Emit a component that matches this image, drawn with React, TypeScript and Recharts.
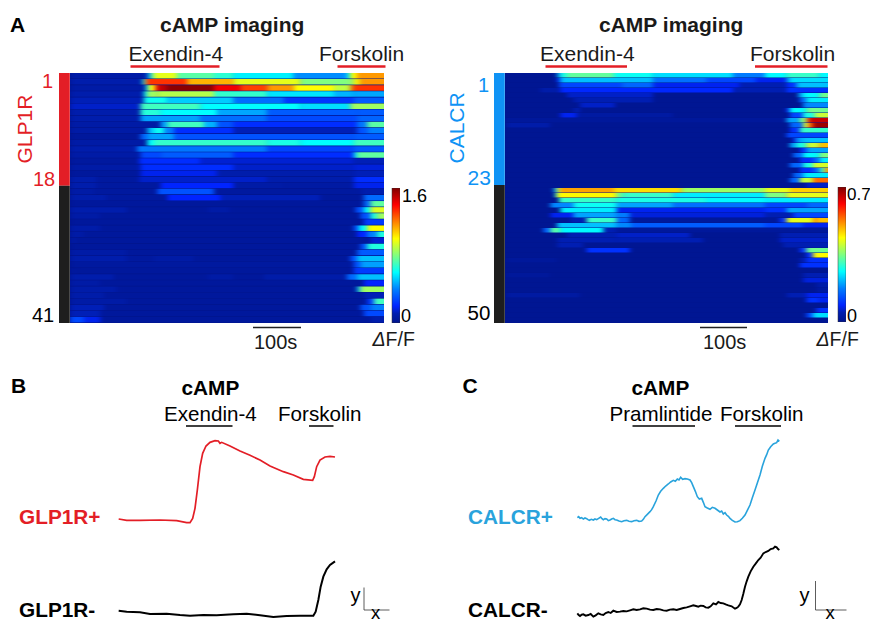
import React from "react";
import { Bar, BarChart, Cell, Line, LineChart, XAxis, YAxis } from "recharts";

const FONT = '"Liberation Sans", Arial, sans-serif';

// each row is a list of [end time in s, dF/F] runs
const glp1rTotal = 654;
const glp1rMax = 1.6;
const glp1rRows: number[][][] = [
  [[161, 0.08], [168, 0.45], [175, 0.75], [223, 0.96], [300, 0.74], [341, 0.67], [466, 0.58], [577, 0.42], [584, 0.6], [598, 1.0], [654, 1.16]],
  [[151, 0.1], [156, 0.6], [161, 1.2], [244, 1.32], [341, 1.12], [480, 0.96], [577, 0.8], [591, 0.82], [605, 1.02], [654, 1.16]],
  [[158, 0.08], [164, 0.6], [178, 1.0], [185, 1.4], [203, 1.5], [300, 1.58], [355, 1.42], [411, 1.3], [466, 1.16], [550, 1.0], [584, 0.9], [591, 1.2], [654, 1.32]],
  [[154, 0.1], [161, 0.6], [182, 0.85], [300, 0.88], [411, 0.68], [550, 0.56], [591, 0.48], [654, 0.46]],
  [[154, 0.12], [203, 0.62], [341, 0.52], [446, 0.36], [591, 0.24], [654, 0.32]],
  [[147, 0.14], [154, 0.7], [272, 0.7], [480, 0.6], [584, 0.55], [654, 0.85]],
  [[147, 0.1], [189, 0.66], [307, 0.6], [411, 0.46], [598, 0.32], [654, 0.32]],
  [[147, 0.1], [272, 0.45], [411, 0.36], [598, 0.28], [654, 0.34]],
  [[189, 0.08], [203, 0.45], [279, 0.7], [307, 0.48], [341, 0.3], [598, 0.22], [619, 0.38], [654, 0.74]],
  [[161, 0.08], [175, 0.5], [196, 0.62], [217, 0.4], [341, 0.22], [598, 0.12], [619, 0.3], [654, 0.4]],
  [[147, 0.05], [161, 0.34], [217, 0.45], [591, 0.3], [654, 0.32]],
  [[161, 0.08], [175, 0.6], [411, 0.68], [480, 0.64], [591, 0.6], [654, 0.7]],
  [[140, 0.1], [411, 0.38], [591, 0.27], [654, 0.32]],
  [[147, 0.08], [189, 0.28], [341, 0.32], [591, 0.22], [598, 0.55], [654, 0.75]],
  [[144, 0.06], [272, 0.22], [591, 0.15], [654, 0.12]],
  [[147, 0.08], [341, 0.22], [591, 0.14], [654, 0.16]],
  [[147, 0.05], [307, 0.18], [591, 0.1], [654, 0.12]],
  [[57, 0.1], [144, 0.06], [411, 0.14], [591, 0.1], [654, 0.22]],
  [[57, 0.1], [189, 0.06], [341, 0.2], [446, 0.08], [591, 0.07], [654, 0.18]],
  [[50, 0.08], [182, 0.06], [300, 0.3], [605, 0.06], [654, 0.1]],
  [[78, 0.1], [203, 0.06], [314, 0.2], [522, 0.12], [612, 0.05], [654, 0.35]],
  [[612, 0.05], [626, 0.35], [654, 0.75]],
  [[119, 0.1], [286, 0.05], [334, 0.08], [595, 0.05], [612, 0.3], [626, 0.6], [654, 0.95]],
  [[64, 0.08], [605, 0.05], [626, 0.3], [640, 0.65], [654, 0.85]],
  [[612, 0.05], [654, 0.25]],
  [[64, 0.09], [591, 0.05], [602, 0.3], [619, 0.6], [654, 1.0]],
  [[29, 0.08], [598, 0.05], [619, 0.2], [640, 0.4], [654, 0.65]],
  [[15, 0.07], [626, 0.05], [654, 0.15]],
  [[605, 0.05], [619, 0.3], [654, 0.65]],
  [[119, 0.08], [598, 0.05], [654, 0.32]],
  [[119, 0.1], [175, 0.06], [258, 0.08], [584, 0.05], [598, 0.3], [654, 0.5]],
  [[591, 0.06], [605, 0.3], [654, 0.45]],
  [[15, 0.06], [591, 0.05], [654, 0.25]],
  [[92, 0.1], [286, 0.05], [341, 0.08], [404, 0.05], [577, 0.09], [598, 0.35], [654, 0.5]],
  [[64, 0.08], [612, 0.05], [654, 0.2]],
  [[99, 0.09], [598, 0.05], [605, 0.5], [654, 0.85]],
  [[71, 0.09], [612, 0.05], [654, 0.12]],
  [[119, 0.08], [619, 0.05], [633, 0.25], [654, 0.7]],
  [[71, 0.12], [605, 0.05], [626, 0.3], [654, 0.4]],
  [[64, 0.12], [612, 0.05], [654, 0.28]],
  [[29, 0.28], [64, 0.18], [626, 0.05], [654, 0.1]],
];

const calcrTotal = 688;
const calcrMax = 0.7;
const calcrRows: number[][][] = [
  [[111, 0.01], [118, 0.2], [132, 0.28], [232, 0.33], [316, 0.27], [486, 0.24], [554, 0.17], [600, 0.26], [670, 0.3], [688, 0.26]],
  [[111, 0.01], [118, 0.1], [316, 0.22], [430, 0.16], [535, 0.12], [600, 0.08], [607, 0.2], [688, 0.24]],
  [[115, 0.01], [248, 0.12], [316, 0.15], [500, 0.08], [600, 0.05], [621, 0.1], [688, 0.22]],
  [[75, 0.01], [118, 0.04], [486, 0.09], [600, 0.05], [688, 0.1]],
  [[132, 0.01], [316, 0.06], [625, 0.01], [635, 0.2], [670, 0.26], [688, 0.34]],
  [[146, 0.01], [316, 0.05], [628, 0.01], [642, 0.15], [688, 0.25]],
  [[160, 0.01], [235, 0.06], [635, 0.01], [688, 0.18]],
  [[146, 0.01], [160, 0.05], [600, 0.01], [607, 0.1], [642, 0.26], [688, 0.34]],
  [[118, 0.01], [153, 0.08], [359, 0.03], [607, 0.01], [635, 0.12], [660, 0.28], [688, 0.4]],
  [[600, 0.02], [628, 0.2], [642, 0.35], [649, 0.55], [688, 0.65]],
  [[4, 0.01], [96, 0.04], [607, 0.01], [635, 0.15], [646, 0.4], [656, 0.55], [688, 0.68]],
  [[607, 0.01], [628, 0.1], [688, 0.3]],
  [[600, 0.01], [688, 0.12]],
  [[614, 0.01], [621, 0.1], [635, 0.2], [688, 0.22]],
  [[607, 0.01], [621, 0.2], [642, 0.28], [670, 0.4], [688, 0.48]],
  [[628, 0.01], [642, 0.1], [688, 0.2]],
  [[614, 0.01], [635, 0.15], [670, 0.26], [688, 0.35]],
  [[628, 0.01], [656, 0.1], [670, 0.15], [688, 0.25]],
  [[607, 0.01], [635, 0.15], [656, 0.28], [688, 0.41]],
  [[628, 0.01], [656, 0.1], [670, 0.15], [681, 0.3], [688, 0.5]],
  [[614, 0.01], [635, 0.15], [688, 0.25]],
  [[607, 0.01], [628, 0.15], [656, 0.4], [688, 0.54]],
  [[642, 0.01], [688, 0.06]],
  [[104, 0.01], [111, 0.2], [118, 0.42], [232, 0.5], [376, 0.46], [554, 0.37], [607, 0.42], [688, 0.47]],
  [[107, 0.01], [111, 0.26], [238, 0.44], [252, 0.33], [359, 0.3], [554, 0.25], [600, 0.35], [688, 0.42]],
  [[115, 0.01], [238, 0.3], [430, 0.28], [554, 0.26], [688, 0.25]],
  [[97, 0.01], [146, 0.18], [238, 0.27], [359, 0.2], [554, 0.16], [642, 0.12], [688, 0.15]],
  [[118, 0.01], [238, 0.25], [554, 0.08], [600, 0.1], [688, 0.2]],
  [[97, 0.01], [146, 0.08], [238, 0.2], [266, 0.17], [554, 0.07], [614, 0.05], [688, 0.12]],
  [[139, 0.01], [174, 0.05], [238, 0.3], [266, 0.15], [585, 0.02], [600, 0.1], [656, 0.42], [663, 0.52], [688, 0.48]],
  [[111, 0.01], [238, 0.22], [270, 0.18], [554, 0.14], [635, 0.12], [688, 0.08]],
  [[82, 0.01], [97, 0.15], [118, 0.32], [210, 0.26], [238, 0.05], [688, 0.02]],
  [[132, 0.01], [238, 0.05], [394, 0.06], [585, 0.01], [688, 0.05]],
  [[111, 0.01], [238, 0.05], [423, 0.05], [585, 0.01], [688, 0.06]],
  [[111, 0.01], [167, 0.05], [592, 0.01], [688, 0.05]],
  [[174, 0.01], [266, 0.1], [628, 0.01], [642, 0.1], [688, 0.34]],
  [[642, 0.01], [656, 0.1], [688, 0.44]],
  [[4, 0.01], [111, 0.02], [628, 0.01], [642, 0.05], [688, 0.1]],
  [[628, 0.01], [688, 0.1]],
  [[688, 0.01]],
  [[4, 0.01], [96, 0.02], [635, 0.01], [688, 0.05]],
  [[635, 0.01], [688, 0.07]],
  [[663, 0.01], [688, 0.04]],
  [[663, 0.01], [688, 0.03]],
  [[4, 0.01], [160, 0.03], [600, 0.01], [642, 0.05], [688, 0.08]],
  [[642, 0.01], [670, 0.1], [688, 0.08]],
  [[688, 0.01]],
  [[663, 0.01], [688, 0.1]],
  [[642, 0.01], [656, 0.12], [688, 0.24]],
  [[688, 0.01]],
];

// traces, panels B and C
const glpTime = [356, 380, 420, 480, 530, 560, 570, 578, 585, 592, 600, 608, 618, 630, 645, 655, 660, 665, 690, 720, 750, 780, 810, 850, 880, 910, 938, 943, 950, 960, 975, 990, 1005];
const glpPlus = [312, 308, 308, 309, 307, 301, 301, 314, 344, 399, 469, 509, 531, 542, 547, 546, 539, 542, 531, 516, 503, 489, 471, 454, 444, 431, 428, 439, 469, 489, 498, 500, 498];
const glpMinusTime = [356, 380, 420, 450, 500, 540, 570, 610, 650, 700, 740, 780, 820, 860, 900, 940, 947, 955, 962, 970, 980, 990, 1005];
const glpMinus = [37, 34, 32, 27, 28, 24, 22, 24, 23, 26, 28, 23, 18, 21, 22, 22, 34, 69, 109, 139, 161, 174, 185];
const calcrPlusTime = [412, 416, 420, 425, 430, 435, 440, 444, 448, 454, 460, 465, 470, 476, 482, 486, 490, 495, 500, 505, 510, 515, 520, 525, 530, 537, 545, 552, 560, 567, 575, 582, 590, 597, 605, 610, 615, 622, 630, 635, 640, 648, 655, 662, 670, 677, 685, 692, 700, 706, 712, 717, 722, 728, 735, 742, 750, 755, 760, 766, 772, 778, 785, 790, 795, 802, 810, 817, 825, 832, 840, 845, 850, 855, 860, 865, 870, 877, 885, 892, 900, 907, 915, 922, 930, 937, 945, 952, 960, 967, 975, 980, 985, 992, 1000, 1005, 1010, 1014, 1018];
const calcrPlus = [316, 319, 314, 316, 312, 315, 313, 310, 308, 311, 309, 312, 310, 314, 318, 313, 310, 313, 312, 307, 309, 312, 314, 310, 309, 306, 304, 307, 308, 305, 304, 307, 308, 305, 306, 311, 319, 326, 334, 340, 349, 366, 384, 395, 404, 411, 417, 423, 428, 425, 432, 429, 437, 431, 433, 432, 429, 421, 409, 395, 379, 372, 374, 362, 349, 345, 341, 347, 344, 339, 333, 336, 327, 331, 324, 320, 314, 308, 303, 304, 307, 314, 324, 338, 354, 376, 399, 420, 444, 470, 494, 505, 519, 529, 537, 539, 541, 549, 545];
const calcrMinusTime = [412, 416, 420, 425, 430, 437, 445, 452, 460, 467, 475, 482, 490, 497, 505, 512, 520, 530, 540, 550, 560, 570, 580, 590, 600, 610, 620, 630, 640, 650, 660, 670, 680, 690, 700, 710, 720, 730, 740, 750, 760, 768, 775, 782, 790, 797, 805, 812, 820, 828, 835, 842, 850, 857, 865, 875, 885, 890, 895, 900, 905, 910, 915, 920, 925, 932, 940, 947, 955, 962, 970, 977, 985, 992, 1000, 1005, 1010, 1014, 1018];
const calcrMinus = [29, 24, 21, 25, 26, 22, 24, 27, 19, 23, 29, 26, 24, 30, 33, 30, 37, 33, 34, 36, 35, 38, 41, 39, 41, 44, 43, 40, 39, 42, 41, 38, 37, 40, 41, 39, 42, 45, 47, 50, 53, 51, 49, 52, 51, 47, 46, 50, 59, 56, 63, 60, 59, 56, 53, 50, 43, 45, 49, 56, 69, 88, 109, 125, 139, 155, 169, 178, 189, 196, 209, 213, 216, 222, 224, 229, 227, 222, 219];

const jetStops = [
  [0, "#00148c"],
  [0.07, "#001eb0"],
  [0.125, "#0024ff"],
  [0.25, "#0080ff"],
  [0.375, "#00ffff"],
  [0.5, "#80ff80"],
  [0.625, "#ffff00"],
  [0.75, "#ff8000"],
  [0.875, "#ff0000"],
  [1, "#800000"],
] as [number, string][];

function jet(f: number) {
  const k = Math.max(0, Math.min(1, f));
  for (let i = 1; i < jetStops.length; i++) {
    const [b, cb] = jetStops[i];
    const [a, ca] = jetStops[i - 1];
    if (k <= b) {
      const t = (k - a) / (b - a);
      const ch = (s: string, p: number) => parseInt(s.slice(p, p + 2), 16);
      const mix = (p: number) => Math.round(ch(ca, p) + (ch(cb, p) - ch(ca, p)) * t);
      return `rgb(${mix(1)},${mix(3)},${mix(5)})`;
    }
  }
  return "#800000";
}

const BLEED = 14; // drawn past the right edge so the blur does not fade there

function Heatmap({ rows, total, max, left, top, width, height }: any) {
  const nSeg = Math.max(...rows.map((r: number[][]) => r.length));
  const extra = (total * BLEED) / width;
  const table = rows.map((r: number[][], i: number) => {
    const o: any = { row: i + 1 };
    let prev = 0;
    r.forEach(([end], j) => {
      o["w" + j] = end - prev + (j === r.length - 1 ? extra : 0);
      prev = end;
    });
    return o;
  });
  const segs = Array.from({ length: nSeg }, (_, j) => j);
  return (
    <div style={{ position: "absolute", left, top, width, height, overflow: "hidden", background: "#00148c" }}>
      <div style={{ filter: "url(#heatBlur)", width: width + BLEED, height }}>
        <BarChart
          width={width + BLEED}
          height={height}
          data={table}
          layout="vertical"
          margin={{ top: 0, right: 0, bottom: 0, left: 0 }}
          barCategoryGap={0}
          barGap={0}
          barSize={height / rows.length}
        >
          <XAxis type="number" domain={[0, total + extra]} hide />
          <YAxis type="category" dataKey="row" hide />
          {segs.map((j) => (
            <Bar key={j} dataKey={"w" + j} stackId="t" isAnimationActive={false}>
              {rows.map((r: number[][], i: number) => (
                <Cell key={i} fill={r[j] ? jet(r[j][1] / max) : "none"} />
              ))}
            </Bar>
          ))}
        </BarChart>
      </div>
    </div>
  );
}

function Strip({ split, colors, left, top, height }: any) {
  const data = [{ name: "cells", a: split[0], b: split[1] }];
  return (
    <div style={{ position: "absolute", left, top }}>
      <BarChart width={12} height={height} data={data} margin={{ top: 0, right: 0, bottom: 0, left: 0 }} barSize={12}>
        <XAxis dataKey="name" hide />
        <YAxis hide reversed domain={[0, split[0] + split[1]]} />
        <Bar dataKey="a" stackId="s" fill={colors[0]} isAnimationActive={false} />
        <Bar dataKey="b" stackId="s" fill={colors[1]} isAnimationActive={false} />
      </BarChart>
    </div>
  );
}

function ColorBar({ id, max, left, top, height }: any) {
  return (
    <div style={{ position: "absolute", left, top }}>
      <BarChart width={9} height={height} data={[{ name: "dF/F", v: max }]} margin={{ top: 0, right: 0, bottom: 0, left: 0 }} barSize={8}>
        <defs>
          <linearGradient id={id} x1="0" y1="1" x2="0" y2="0">
            {jetStops.map(([o, c]) => (
              <stop key={o} offset={o} stopColor={c} />
            ))}
          </linearGradient>
        </defs>
        <XAxis dataKey="name" hide />
        <YAxis hide domain={[0, max]} />
        <Bar dataKey="v" fill={`url(#${id})`} stroke="#333" strokeWidth={0.5} isAnimationActive={false} />
      </BarChart>
    </div>
  );
}

function Traces({ series, left }: any) {
  return (
    <div style={{ position: "absolute", left, top: 370 }}>
      <LineChart width={430} height={253} margin={{ top: 0, right: 0, bottom: 0, left: 0 }}>
        <XAxis type="number" dataKey="t" domain={[0, 1290]} hide />
        <YAxis type="number" domain={[0, 759]} hide />
        {series.map((s: any) => (
          <Line
            key={s.name}
            name={s.name}
            data={s.time.map((t: number, i: number) => ({ t, v: s.values[i] }))}
            dataKey="v"
            type="linear"
            stroke={s.color}
            strokeWidth={s.w}
            dot={false}
            isAnimationActive={false}
          />
        ))}
      </LineChart>
    </div>
  );
}

const RED = "#e31e26";
const BLUE = "#0f93f5";
const INK = "#1a1a1a";

// [text, x, baseline, size, weight, colour]
const labels: [string, number, number, number, string, string][] = [
  ["A", 10, 32, 21, "bold", "#000"],
  ["cAMP imaging", 160, 32, 21, "bold", INK],
  ["Exendin-4", 128.5, 61, 21, "normal", INK],
  ["Forskolin", 319, 61, 21, "normal", INK],
  ["1", 42, 88, 20, "normal", RED],
  ["18", 33, 186, 20, "normal", RED],
  ["41", 32, 322, 20, "normal", "#000"],
  ["1.6", 402, 202, 18, "normal", "#000"],
  ["0", 401, 322, 18, "normal", "#000"],
  ["100s", 254, 349, 20, "normal", INK],
  ["cAMP imaging", 599, 32, 21, "bold", INK],
  ["Exendin-4", 540, 61, 21, "normal", INK],
  ["Forskolin", 750, 61, 21, "normal", INK],
  ["1", 478, 92, 20, "normal", BLUE],
  ["23", 467.5, 185, 21, "normal", BLUE],
  ["50", 467.5, 320, 20.5, "normal", "#000"],
  ["0.7", 847, 200, 17, "normal", "#000"],
  ["0", 847, 322, 18, "normal", "#000"],
  ["100s", 703, 349, 20, "normal", INK],
  ["B", 11, 393, 21, "bold", "#000"],
  ["cAMP", 181.5, 395, 20.8, "bold", "#000"],
  ["Exendin-4", 164, 421, 20.6, "normal", "#000"],
  ["Forskolin", 278, 421, 20.6, "normal", "#000"],
  ["GLP1R+", 19, 524, 20.8, "bold", RED],
  ["GLP1R-", 19, 617, 20.8, "bold", "#000"],
  ["y", 350.5, 602, 20, "normal", "#000"],
  ["x", 371, 619, 18.5, "normal", "#000"],
  ["C", 462.5, 393, 21, "bold", "#000"],
  ["cAMP", 631.5, 395, 20.8, "bold", "#000"],
  ["Pramlintide", 609.5, 421, 20.6, "normal", "#000"],
  ["Forskolin", 720, 421, 20.6, "normal", "#000"],
  ["CALCR+", 468, 524, 20.8, "bold", "#29a3dc"],
  ["CALCR-", 468, 617, 20.8, "bold", "#000"],
  ["y", 799.5, 602, 20, "normal", "#000"],
  ["x", 825.5, 619, 18.5, "normal", "#000"],
];

// stimulus and scale bars: [x1, y1, x2, y2, width, colour]
const rules: [number, number, number, number, number, string][] = [
  [130.5, 66.5, 219.5, 66.5, 2.6, RED],
  [337.5, 66.5, 385.5, 66.5, 2.6, RED],
  [545.5, 66.5, 627, 66.5, 2.6, RED],
  [755, 66.5, 827.5, 66.5, 2.6, RED],
  [253, 327.5, 301, 327.5, 1.5, "#222"],
  [700, 327.5, 747, 327.5, 1.5, "#222"],
  [186, 426, 232.5, 426, 1.5, "#000"],
  [309, 426, 333.5, 426, 1.5, "#000"],
  [632.5, 426, 695, 426, 1.5, "#000"],
  [735, 426, 781, 426, 1.5, "#000"],
  [364, 587.5, 364, 610, 0.8, "#333"],
  [364, 610, 389.5, 610, 0.8, "#333"],
  [815.5, 581, 815.5, 610, 0.8, "#333"],
  [815.5, 610, 846.5, 610, 0.8, "#333"],
];

export default function App() {
  return (
    <div style={{ position: "absolute", left: 0, top: 0, width: 870, height: 623, background: "#fff", overflow: "hidden", fontFamily: FONT }}>
      <svg width={0} height={0} style={{ position: "absolute" }}>
        <filter id="heatBlur" x="-5%" y="-5%" width="110%" height="110%" colorInterpolationFilters="sRGB">
          <feGaussianBlur stdDeviation="2.6 0.6" />
        </filter>
      </svg>

      <Strip split={[18.5, 22.5]} colors={[RED, "#1e1e1e"]} left={58} top={73} height={250} />
      <Heatmap rows={glp1rRows} total={glp1rTotal} max={glp1rMax} left={69.5} top={73} width={314} height={250} />
      <ColorBar id="jetA" max={glp1rMax} left={391} top={188} height={135} />

      <Strip split={[22.4, 27.6]} colors={[BLUE, "#1e1e1e"]} left={493} top={73} height={250} />
      <Heatmap rows={calcrRows} total={calcrTotal} max={calcrMax} left={505} top={73} width={323} height={250} />
      <ColorBar id="jetB" max={calcrMax} left={837} top={187} height={135} />

      <Traces
        left={0}
        series={[
          { name: "GLP1R+", time: glpTime, values: glpPlus, color: RED, w: 1.7 },
          { name: "GLP1R-", time: glpMinusTime, values: glpMinus, color: "#000", w: 2 },
        ]}
      />
      <Traces
        left={440}
        series={[
          { name: "CALCR+", time: calcrPlusTime, values: calcrPlus, color: "#29a3dc", w: 1.6 },
          { name: "CALCR-", time: calcrMinusTime, values: calcrMinus, color: "#000", w: 1.9 },
        ]}
      />

      <svg width={870} height={623} style={{ position: "absolute", left: 0, top: 0, pointerEvents: "none" }}>
        {rules.map(([x1, y1, x2, y2, w, c], i) => (
          <line key={i} x1={x1} y1={y1} x2={x2} y2={y2} stroke={c} strokeWidth={w} />
        ))}
        {labels.map(([t, x, y, size, weight, color], i) => (
          <text key={i} x={x} y={y} fontSize={size} fontWeight={weight} fill={color} fontFamily={FONT}>
            {t}
          </text>
        ))}
        <text transform="translate(32,163.5) rotate(-90)" fontSize={21} fill={RED} fontFamily={FONT}>GLP1R</text>
        <text transform="translate(464,163.5) rotate(-90)" fontSize={21} fill={BLUE} fontFamily={FONT}>CALCR</text>
        <text x={372.5} y={346} fontSize={19.5} fill={INK} fontFamily={FONT}>
          <tspan fontStyle="italic">Δ</tspan>F/F
        </text>
        <text x={816.5} y={346} fontSize={19.5} fill={INK} fontFamily={FONT}>
          <tspan fontStyle="italic">Δ</tspan>F/F
        </text>
      </svg>
    </div>
  );
}
